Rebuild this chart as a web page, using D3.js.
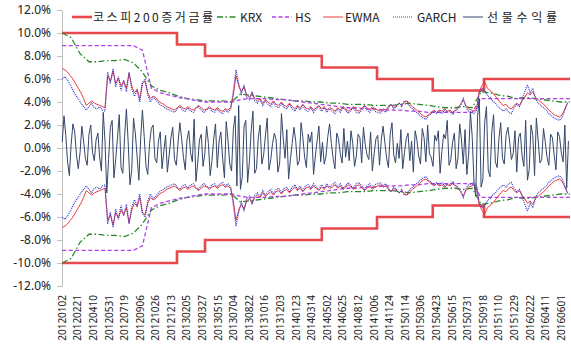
<!DOCTYPE html>
<html>
<head>
<meta charset="utf-8">
<script src="https://d3js.org/d3.v7.min.js"></script>
<style>
  body { margin: 0; background: #fff; }
  text { font-family: "Noto Sans CJK KR", "Noto Sans", sans-serif; fill: #222; }
</style>
</head>
<body>
<svg id="chart" width="571" height="348"></svg>
<script>
// trading days 2012-01-02 .. 2016-06 (category axis)
var nDays = 1140;

var tickDates = ["20120102","20120221","20120410","20120531","20120719","20120906","20121026",
  "20121213","20130205","20130327","20130515","20130704","20130822","20131016","20131203",
  "20140123","20140314","20140502","20140625","20140812","20141006","20141124","20150114",
  "20150306","20150423","20150615","20150731","20150918","20151110","20151229","20160222",
  "20160411","20160601"];
var tickEvery = 35;

// 코스피200 증거금률 (%) : start day index, rate
var marginStart = [0, 258, 321, 583, 707, 832, 947];
var marginRate  = [10, 9, 8, 7, 6, 5, 6];

// KRX, HS VaR (%), one value every 20 days
var krxStep = 20;
var krx = [10.0,9.6,8.2,7.5,7.5,7.6,7.6,7.7,7.4,6.6,5.4,5.0,4.8,4.5,4.3,4.2,4.1,4.1,4.1,4.0,
  4.7,4.6,4.5,4.4,4.3,4.2,4.1,4.1,4.0,4.0,3.9,3.9,3.8,3.8,3.8,3.7,3.7,3.7,3.8,3.9,
  3.8,3.7,3.6,3.5,3.5,3.6,3.5,4.9,4.8,4.6,4.5,4.3,4.4,4.3,4.2,4.1,4.0,4.0];
var hs = [8.9,8.9,8.9,8.9,8.9,8.9,8.9,8.9,8.9,8.5,5.2,4.8,4.6,4.4,4.3,4.1,4.0,4.0,4.0,4.0,
  4.2,4.3,4.3,4.3,4.2,4.2,4.1,4.0,3.9,3.8,3.7,3.6,3.5,3.5,3.4,3.4,3.3,3.3,3.3,3.2,
  3.2,3.1,3.1,3.1,3.1,3.1,3.1,4.3,4.3,4.3,4.3,4.3,4.3,4.3,4.3,4.3,4.3,4.3];

// EWMA, GARCH VaR (%), one value every 6 days
var volStep = 6;
var ewma = [6.9,6.8,6.6,6.3,6.0,5.6,5.2,4.8,4.3,3.7,
  3.9,4.1,3.9,3.8,3.7,3.6,3.5,6.3,5.8,6.7,
  5.6,6.1,5.4,5.8,5.2,6.5,5.4,4.8,5.1,4.3,
  5.6,5.8,4.8,4.3,4.5,4.4,4.1,3.9,3.8,3.6,
  3.5,3.4,3.3,3.5,3.7,3.5,3.4,3.6,3.4,3.3,
  3.5,3.7,3.5,3.3,3.4,3.6,3.4,3.3,3.5,3.3,
  3.2,3.4,3.3,3.5,4.6,6.3,5.4,4.9,5.3,4.6,
  4.4,4.8,4.3,4.1,4.3,3.9,4.2,4.0,3.8,4.1,
  3.8,3.7,4.0,3.7,3.6,3.9,3.6,3.4,3.7,3.5,
  3.8,3.5,3.4,3.6,3.3,3.5,3.7,3.4,3.6,3.3,
  3.5,3.4,3.2,3.5,3.3,3.6,3.4,3.2,3.4,3.6,
  3.3,3.2,3.4,3.7,3.5,3.3,3.6,3.4,3.3,3.2,
  3.4,3.3,3.6,3.8,3.5,3.7,3.9,3.7,4.0,4.1,
  3.8,3.6,3.4,3.2,3.0,2.8,2.7,2.9,3.1,3.3,
  3.1,3.3,3.2,3.4,3.2,3.3,3.1,3.3,3.5,3.8,
  4.2,3.7,3.4,3.3,3.2,3.4,5.0,5.4,5.8,5.2,
  5.0,4.8,4.5,4.2,3.9,3.7,3.8,3.5,3.4,3.7,
  3.9,3.7,4.1,4.4,4.8,4.6,4.9,4.4,4.2,4.0,
  3.8,3.6,3.3,3.1,2.9,2.8,2.7,2.9,3.4,3.9];
var garch = [6.0,6.2,5.9,5.5,5.0,4.6,4.3,3.9,3.6,3.3,
  3.6,3.9,3.5,3.4,3.6,3.3,3.2,6.6,5.6,6.9,
  5.3,6.2,5.0,5.9,4.9,6.6,5.1,4.5,5.0,4.0,
  5.7,6.0,4.6,4.0,4.4,4.2,3.9,3.7,3.6,3.4,
  3.3,3.2,3.1,3.4,3.6,3.3,3.2,3.5,3.2,3.1,
  3.4,3.6,3.3,3.1,3.3,3.5,3.2,3.1,3.4,3.1,
  3.0,3.3,3.1,3.4,5.0,6.8,5.6,4.7,5.5,4.4,
  4.2,4.9,4.1,3.9,4.2,3.7,4.1,3.8,3.6,4.0,
  3.6,3.5,3.9,3.5,3.4,3.8,3.4,3.2,3.6,3.3,
  3.7,3.3,3.2,3.5,3.1,3.4,3.6,3.2,3.5,3.1,
  3.4,3.2,3.0,3.4,3.1,3.5,3.3,3.0,3.3,3.5,
  3.1,3.0,3.3,3.6,3.3,3.1,3.5,3.2,3.1,3.0,
  3.3,3.1,3.5,3.8,3.4,3.6,3.9,3.6,4.1,4.0,
  3.6,3.4,3.2,3.0,2.8,2.6,2.5,2.8,3.0,3.2,
  3.0,3.2,3.0,3.3,3.1,3.2,2.9,3.2,3.4,3.7,
  4.3,3.5,3.2,3.1,3.0,3.3,4.8,5.2,5.0,4.6,
  4.4,4.1,3.9,3.6,3.4,3.2,3.4,3.1,3.0,3.5,
  3.8,3.6,4.2,4.9,5.5,4.8,5.2,4.3,3.9,3.7,
  3.5,3.3,3.0,2.8,2.6,2.5,2.4,2.7,3.3,4.0];

// 선물수익률 (%), one value every 4 days
var retStep = 4;
var futRet = [0.5,2.8,1.1,-1.2,-2.4,0.3,2.1,1.4,-0.6,-1.8,-0.4,1.9,0.6,-0.9,-1.5,1.2,2.0,-0.4,-1.1,0.7,
  1.3,-0.8,-2.0,3.1,0.6,-3.9,-1.0,1.8,2.4,-2.6,-1.0,0.9,2.9,-1.7,-2.2,1.0,3.4,0.5,-3.2,-1.9,
  2.6,1.3,-0.7,-2.8,0.8,3.3,1.0,-1.6,-2.3,0.4,1.7,2.0,-0.9,-1.3,0.6,1.4,-1.8,-0.3,1.1,-2.1,
  -0.6,0.9,1.8,-1.0,-1.5,0.5,2.2,0.8,-0.8,-1.9,0.7,1.5,-0.4,-1.2,2.5,-2.9,-1.3,0.7,1.2,-1.6,
  -0.5,1.9,0.4,-2.4,-1.1,0.8,2.1,-1.7,0.6,1.4,-0.9,-2.6,2.3,0.7,-1.4,-2.0,1.6,2.8,-3.3,3.7,
  -3.6,-2.5,1.9,2.4,-3.0,-1.2,1.5,3.2,-2.2,-1.8,0.9,2.0,-1.4,-0.6,1.1,2.6,-1.9,-1.0,0.4,1.3,
  0.7,-2.1,-1.3,3.0,0.8,-0.9,1.6,-2.7,-1.0,0.4,1.8,0.6,-1.5,-1.1,2.2,0.9,-0.8,-1.7,1.2,0.5,
  1.4,-2.3,-0.7,0.6,1.9,-1.2,0.5,-1.4,-0.7,1.0,2.1,0.4,-0.9,-1.8,1.3,0.8,-0.5,-1.3,1.7,-0.8,
  0.6,-1.1,1.5,0.4,-1.6,-0.7,1.2,0.9,-1.3,1.8,0.3,-0.6,-1.0,1.4,-2.0,-0.5,0.8,1.1,-1.5,0.7,
  1.9,0.5,-0.9,-1.7,1.2,2.2,-0.6,-1.3,0.4,-0.9,1.6,-1.8,-0.4,0.8,1.3,-1.1,0.6,-2.1,1.5,0.7,
  -0.7,-1.4,1.7,0.9,-1.2,2.0,-0.5,-0.8,-1.6,1.1,0.6,1.5,-2.2,-0.3,1.2,0.8,2.4,-1.5,-1.0,0.5,
  1.3,-1.8,-0.9,2.1,0.7,-1.4,1.6,-2.3,-0.6,3.1,1.0,-3.0,-4.2,2.7,4.3,-3.4,-2.7,2.2,3.6,-1.9,
  -2.5,1.4,2.9,-1.2,-1.7,0.8,2.2,-0.9,-1.4,1.1,1.8,0.6,-1.0,-0.5,1.5,-2.1,0.9,1.3,-0.7,-1.6,
  2.4,-2.8,-1.9,2.0,1.1,-2.4,2.6,0.7,-1.3,-1.0,1.7,0.5,-0.8,-1.5,1.2,0.9,-0.6,-1.9,1.4,1.0,
  -0.4,-1.2,2.0,-3.5,0.6];

var yTicks = [12,10,8,6,4,2,0,-2,-4,-6,-8,-10,-12];

var legendNames = ["코스피200증거금률","KRX","HS","EWMA","GARCH","선물수익률"];

function draw() {
  var svg = d3.select("#chart");
  var x = d3.scaleLinear().domain([0, nDays]).range([62, 570]);
  var y = d3.scaleLinear().domain([-12, 12]).range([286, 10]);
  var xc = function(i) { return x(Math.min(i, nDays - 1) + 0.5); };

  // y axis
  var yAxis = d3.axisLeft(y).tickValues(yTicks).tickSize(5).tickSizeOuter(0)
    .tickFormat(function(d) { return d.toFixed(1) + "%"; });
  var gy = svg.append("g").attr("transform", "translate(62,0)").call(yAxis);
  gy.select(".domain").attr("stroke", "#bfbfbf");
  gy.selectAll(".tick line").attr("stroke", "#bfbfbf");
  gy.selectAll(".tick text").attr("x", -11).attr("font-size", 12)
    .style("font-family", "'Noto Sans', sans-serif").attr("fill", "#222");

  // zero line
  svg.append("line").attr("x1", 62).attr("x2", 570)
    .attr("y1", y(0)).attr("y2", y(0)).attr("stroke", "#bfbfbf").attr("stroke-width", 1);

  // x category labels at the bottom
  svg.append("g").selectAll("text").data(tickDates).enter().append("text")
    .attr("transform", function(d, k) { return "translate(" + (xc(k * tickEvery) + 3.5) + ",295) rotate(-90)"; })
    .attr("text-anchor", "end").attr("font-size", 10)
    .style("font-family", "'Noto Sans', sans-serif").attr("fill", "#222")
    .text(function(d) { return d; });

  var line = d3.line().x(function(d) { return xc(d[0]); }).y(function(d) { return y(d[1]); });

  function pts(arr, step, sign) {
    return arr.map(function(v, s) { return [s * step, sign * v]; });
  }

  // margin rate step line
  var marginPts = marginStart.map(function(s, k) { return [s, marginRate[k]]; });
  marginPts.push([nDays, marginRate[marginRate.length - 1]]);
  var stepLine = d3.line().curve(d3.curveStepAfter)
    .x(function(d) { return x(d[0]); }).y(function(d) { return y(d[1]); });
  [1, -1].forEach(function(sg) {
    svg.append("path").attr("d", stepLine(marginPts.map(function(p) { return [p[0], sg * p[1]]; })))
      .attr("fill", "none").attr("stroke", "#e8474c").attr("stroke-width", 2.6);
  });

  var series = [
    { data: krx, step: krxStep, color: "#2a8a2a", dash: "6,2.5,1.5,2.5", w: 1.3 },
    { data: hs, step: krxStep, color: "#b23cf0", dash: "4,2.5", w: 1.3 },
    { data: ewma, step: volStep, color: "#ee3b3b", dash: null, w: 1 },
    { data: garch, step: volStep, color: "#3a3ad0", dash: "1,1", w: 1.2 }
  ];
  series.forEach(function(s) {
    [1, -1].forEach(function(sg) {
      svg.append("path").attr("d", line(pts(s.data, s.step, sg)))
        .attr("fill", "none").attr("stroke", s.color).attr("stroke-width", s.w)
        .attr("stroke-dasharray", s.dash);
    });
  });

  svg.append("path").attr("d", line(pts(futRet, retStep, 1)))
    .attr("fill", "none").attr("stroke", "#34466a").attr("stroke-width", 1);

  // legend
  var leg = [
    { x: 72, tx: 93, len: 120, color: "#e8474c", dash: null, w: 2.6 },
    { x: 217, tx: 240, len: null, color: "#2a8a2a", dash: "6,2.5,1.5,2.5", w: 1.3 },
    { x: 272, tx: 295, len: null, color: "#b23cf0", dash: "4,2.5", w: 1.3 },
    { x: 323, tx: 345, len: null, color: "#ee3b3b", dash: null, w: 1 },
    { x: 393, tx: 417, len: null, color: "#3a3ad0", dash: "1,1", w: 1.2 },
    { x: 463, tx: 487, len: 70, color: "#34466a", dash: null, w: 1 }
  ];
  var lg = svg.append("g");
  leg.forEach(function(l, k) {
    lg.append("line").attr("x1", l.x).attr("x2", l.x + 20).attr("y1", 17).attr("y2", 17)
      .attr("stroke", l.color).attr("stroke-width", l.w).attr("stroke-dasharray", l.dash);
    var t = lg.append("text").attr("x", l.tx).attr("y", 21.5).attr("font-size", 12)
      .text(legendNames[k]);
    if (l.len) t.attr("textLength", l.len).attr("lengthAdjust", "spacing");
  });
}
draw();
</script>
</body>
</html>
